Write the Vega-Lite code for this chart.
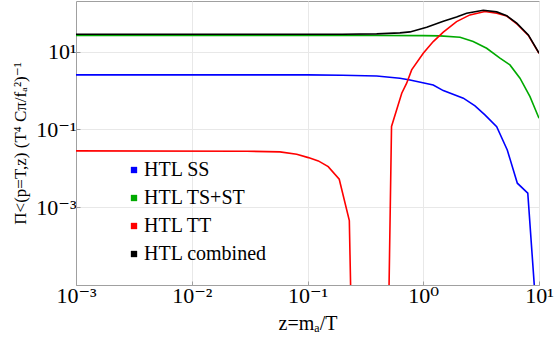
{
  "$schema": "https://vega.github.io/schema/vega-lite/v6.json",
  "width": 463,
  "height": 284,
  "autosize": {"type": "none"},
  "padding": {"left": 76, "top": 1, "right": 17, "bottom": 59},
  "background": "white",
  "config": {
    "view": {"stroke": "#a0a0a0", "strokeWidth": 1},
    "font": "'Liberation Serif', 'Times New Roman', 'DejaVu Serif', serif"
  },
  "data": {
    "values": [
      {"s": "HTL SS", "seg": "SS", "z": 0.001, "v": 2.52},
      {"s": "HTL SS", "seg": "SS", "z": 0.1, "v": 2.52},
      {"s": "HTL SS", "seg": "SS", "z": 0.2, "v": 2.47},
      {"s": "HTL SS", "seg": "SS", "z": 0.396, "v": 2.37},
      {"s": "HTL SS", "seg": "SS", "z": 0.629, "v": 2.07},
      {"s": "HTL SS", "seg": "SS", "z": 0.768, "v": 1.87},
      {"s": "HTL SS", "seg": "SS", "z": 1.22, "v": 1.39},
      {"s": "HTL SS", "seg": "SS", "z": 1.49, "v": 0.994},
      {"s": "HTL SS", "seg": "SS", "z": 2.22, "v": 0.634},
      {"s": "HTL SS", "seg": "SS", "z": 2.8, "v": 0.402},
      {"s": "HTL SS", "seg": "SS", "z": 3.41, "v": 0.236},
      {"s": "HTL SS", "seg": "SS", "z": 4.31, "v": 0.118},
      {"s": "HTL SS", "seg": "SS", "z": 5.32, "v": 0.0297},
      {"s": "HTL SS", "seg": "SS", "z": 6.5, "v": 0.00414},
      {"s": "HTL SS", "seg": "SS", "z": 8.0, "v": 0.00229},
      {"s": "HTL SS", "seg": "SS", "z": 9.15, "v": 0.000008},
      {"s": "HTL TS+ST", "seg": "TS", "z": 0.001, "v": 26.1},
      {"s": "HTL TS+ST", "seg": "TS", "z": 0.4, "v": 26.0},
      {"s": "HTL TS+ST", "seg": "TS", "z": 1.0, "v": 25.8},
      {"s": "HTL TS+ST", "seg": "TS", "z": 1.395, "v": 25.4},
      {"s": "HTL TS+ST", "seg": "TS", "z": 2.08, "v": 23.4},
      {"s": "HTL TS+ST", "seg": "TS", "z": 2.7, "v": 18.1},
      {"s": "HTL TS+ST", "seg": "TS", "z": 3.53, "v": 12.2},
      {"s": "HTL TS+ST", "seg": "TS", "z": 4.6, "v": 6.77},
      {"s": "HTL TS+ST", "seg": "TS", "z": 5.61, "v": 4.55},
      {"s": "HTL TS+ST", "seg": "TS", "z": 6.85, "v": 2.07},
      {"s": "HTL TS+ST", "seg": "TS", "z": 8.36, "v": 0.697},
      {"s": "HTL TS+ST", "seg": "TS", "z": 10, "v": 0.194},
      {"s": "HTL TT", "seg": "TT1", "z": 0.001, "v": 0.028},
      {"s": "HTL TT", "seg": "TT1", "z": 0.03, "v": 0.0275},
      {"s": "HTL TT", "seg": "TT1", "z": 0.0578, "v": 0.0264},
      {"s": "HTL TT", "seg": "TT1", "z": 0.0807, "v": 0.023},
      {"s": "HTL TT", "seg": "TT1", "z": 0.1017, "v": 0.01883},
      {"s": "HTL TT", "seg": "TT1", "z": 0.124, "v": 0.01549},
      {"s": "HTL TT", "seg": "TT1", "z": 0.151, "v": 0.01106},
      {"s": "HTL TT", "seg": "TT1", "z": 0.188, "v": 0.00525},
      {"s": "HTL TT", "seg": "TT1", "z": 0.2298, "v": 0.000453},
      {"s": "HTL TT", "seg": "TT1", "z": 0.236, "v": 0.000008},
      {"s": "HTL TT", "seg": "TT2", "z": 0.506, "v": 0.000008},
      {"s": "HTL TT", "seg": "TT2", "z": 0.532, "v": 0.119},
      {"s": "HTL TT", "seg": "TT2", "z": 0.652, "v": 0.853},
      {"s": "HTL TT", "seg": "TT2", "z": 0.719, "v": 1.54},
      {"s": "HTL TT", "seg": "TT2", "z": 0.794, "v": 3.39},
      {"s": "HTL TT", "seg": "TT2", "z": 1.0, "v": 9.1},
      {"s": "HTL TT", "seg": "TT2", "z": 1.22, "v": 18.1},
      {"s": "HTL TT", "seg": "TT2", "z": 1.49, "v": 31.5},
      {"s": "HTL TT", "seg": "TT2", "z": 1.94, "v": 59},
      {"s": "HTL TT", "seg": "TT2", "z": 2.53, "v": 87.8},
      {"s": "HTL TT", "seg": "TT2", "z": 3.41, "v": 107},
      {"s": "HTL TT", "seg": "TT2", "z": 4.31, "v": 97},
      {"s": "HTL TT", "seg": "TT2", "z": 5.26, "v": 82},
      {"s": "HTL TT", "seg": "TT2", "z": 6.42, "v": 52},
      {"s": "HTL TT", "seg": "TT2", "z": 8.09, "v": 26},
      {"s": "HTL TT", "seg": "TT2", "z": 10, "v": 9.0},
      {"s": "HTL combined", "seg": "C", "z": 0.001, "v": 28.0},
      {"s": "HTL combined", "seg": "C", "z": 0.2, "v": 28.0},
      {"s": "HTL combined", "seg": "C", "z": 0.396, "v": 28.5},
      {"s": "HTL combined", "seg": "C", "z": 0.629, "v": 30.3},
      {"s": "HTL combined", "seg": "C", "z": 0.768, "v": 32.1},
      {"s": "HTL combined", "seg": "C", "z": 1.071, "v": 42.4},
      {"s": "HTL combined", "seg": "C", "z": 1.49, "v": 60.4},
      {"s": "HTL combined", "seg": "C", "z": 1.94, "v": 78},
      {"s": "HTL combined", "seg": "C", "z": 2.37, "v": 97},
      {"s": "HTL combined", "seg": "C", "z": 3.3, "v": 116},
      {"s": "HTL combined", "seg": "C", "z": 4.31, "v": 105},
      {"s": "HTL combined", "seg": "C", "z": 5.26, "v": 84},
      {"s": "HTL combined", "seg": "C", "z": 6.42, "v": 53.7},
      {"s": "HTL combined", "seg": "C", "z": 8.09, "v": 26.8},
      {"s": "HTL combined", "seg": "C", "z": 10, "v": 9.1}
    ]
  },
  "mark": {"type": "line", "clip": true, "strokeWidth": 1.6},
  "encoding": {
    "x": {
      "field": "z", "type": "quantitative",
      "scale": {"type": "log", "domain": [0.001, 10], "nice": false},
      "axis": {
        "title": "z=mₐ/T",
        "titleFont": "'Liberation Serif', 'Times New Roman', 'DejaVu Serif', serif", "titleFontSize": 20, "titleFontWeight": "normal", "titleColor": "black",
        "titlePadding": 7,
        "values": [0.001, 0.01, 0.1, 1, 10],
        "labelExpr": "round(log(datum.value)/LN10) == -3 ? '10⁻³' : round(log(datum.value)/LN10) == -2 ? '10⁻²' : round(log(datum.value)/LN10) == -1 ? '10⁻¹' : round(log(datum.value)/LN10) == 0 ? '10⁰' : '10¹'",
        "labelFont": "'Liberation Serif', 'Times New Roman', 'DejaVu Serif', serif", "labelFontSize": 22, "labelColor": "black",
        "labelFlush": false, "labelPadding": 4,
        "tickSize": -4, "tickColor": "#a0a0a0",
        "domainColor": "#a0a0a0",
        "gridColor": "#e8e8e8", "grid": true
      }
    },
    "y": {
      "field": "v", "type": "quantitative",
      "scale": {"type": "log", "domain": [0.00001, 200], "nice": false},
      "axis": {
        "title": "Π<(p=T,z) (T⁴ Cπ/fₐ²)⁻¹",
        "titleFont": "'Liberation Serif', 'Times New Roman', 'DejaVu Serif', serif", "titleFontSize": 17, "titleFontWeight": "normal", "titleColor": "black",
        "titlePadding": 6,
        "values": [0.001, 0.1, 10],
        "labelExpr": "round(log(datum.value)/LN10) == -3 ? '10⁻³' : round(log(datum.value)/LN10) == -1 ? '10⁻¹' : '10¹'",
        "labelFont": "'Liberation Serif', 'Times New Roman', 'DejaVu Serif', serif", "labelFontSize": 22, "labelColor": "black",
        "labelPadding": 4,
        "tickSize": -4, "tickColor": "#a0a0a0",
        "domainColor": "#a0a0a0",
        "gridColor": "#e8e8e8", "grid": true
      }
    },
    "color": {
      "field": "s", "type": "nominal",
      "scale": {"domain": ["HTL SS", "HTL TS+ST", "HTL TT", "HTL combined"], "range": ["#0000ff", "#00aa00", "#ff0000", "#000000"]},
      "legend": {
        "title": null, "orient": "none", "legendX": 48, "legendY": 159, "padding": 0,
        "symbolType": "square", "symbolSize": 40, "symbolStrokeWidth": 0,
        "labelFont": "'Liberation Serif', 'Times New Roman', 'DejaVu Serif', serif", "labelFontSize": 20, "labelColor": "black",
        "rowPadding": 8, "labelOffset": 0,
        "encode": {
          "symbols": {"update": {"fill": {"scale": "color", "field": "value"}, "stroke": {"value": "transparent"}, "opacity": {"value": 1}}}
        }
      }
    },
    "detail": {"field": "seg", "type": "nominal"}
  }
}
